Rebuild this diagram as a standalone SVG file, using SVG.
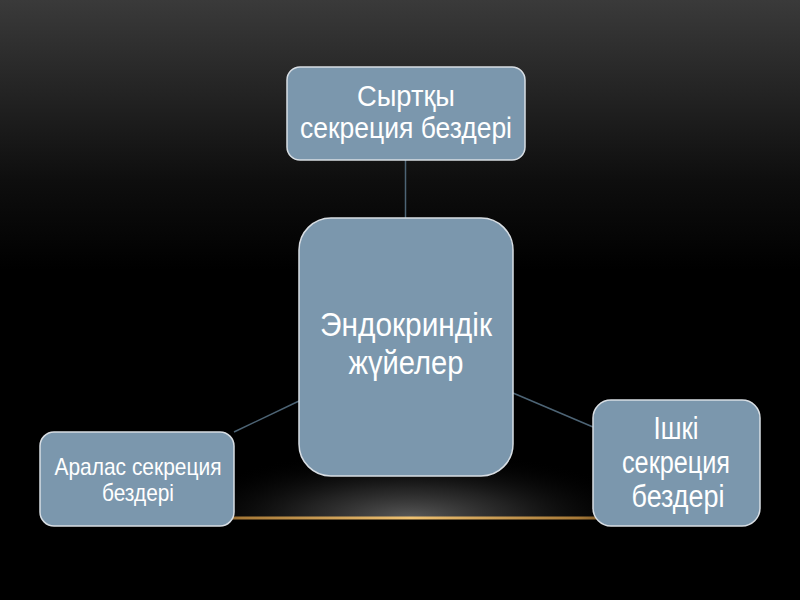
<svg xmlns="http://www.w3.org/2000/svg" width="800" height="600" viewBox="0 0 800 600">
  <defs>
    <linearGradient id="bg" x1="0" y1="0" x2="0" y2="1">
      <stop offset="0" stop-color="#3a3a3a"/>
      <stop offset="0.3" stop-color="#0e0e0e"/>
      <stop offset="0.45" stop-color="#000000"/>
      <stop offset="1" stop-color="#000000"/>
    </linearGradient>
    <radialGradient id="glow" cx="0.5" cy="1" r="0.5" gradientTransform="translate(0.5 1) scale(1 2) translate(-0.5 -1)">
      <stop offset="0" stop-color="#5a5a5a" stop-opacity="1"/>
      <stop offset="0.45" stop-color="#2a2a2a" stop-opacity="0.8"/>
      <stop offset="1" stop-color="#000000" stop-opacity="0"/>
    </radialGradient>
    <linearGradient id="line" x1="0" y1="0" x2="1" y2="0">
      <stop offset="0" stop-color="#8a5e28" stop-opacity="0"/>
      <stop offset="0.2" stop-color="#a87a38"/>
      <stop offset="0.5" stop-color="#f0c272"/>
      <stop offset="0.8" stop-color="#a87a38"/>
      <stop offset="1" stop-color="#8a5e28" stop-opacity="0"/>
    </linearGradient>
  </defs>
  <style>
    .box { fill: #7b97ad; stroke: #d8dee4; stroke-width: 1.5; }
    .conn { stroke: #4d6475; stroke-width: 1.5; fill: none; }
    .t { font-family: "Liberation Sans", Arial, sans-serif; fill: #ffffff; text-anchor: middle; }
  </style>
  <rect x="0" y="0" width="800" height="600" fill="url(#bg)"/>
  <rect x="170" y="450" width="480" height="68" fill="url(#glow)"/>
  <rect x="130" y="516.5" width="560" height="3" fill="url(#line)"/>

  <g id="connectors">
    <line class="conn" x1="405.5" y1="160" x2="405.5" y2="218"/>
    <line class="conn" x1="234" y1="432" x2="299" y2="401"/>
    <line class="conn" x1="513" y1="393" x2="593" y2="427"/>
  </g>

  <g id="top">
    <rect class="box" x="287" y="67" width="238" height="93" rx="13"/>
    <text class="t" font-size="30" x="406" y="106" textLength="98" lengthAdjust="spacingAndGlyphs">Сыртқы</text>
    <text class="t" font-size="30" x="406" y="138" textLength="212" lengthAdjust="spacingAndGlyphs">секреция бездері</text>
  </g>

  <g id="center">
    <rect class="box" x="299" y="218" width="214" height="258" rx="32"/>
    <text class="t" font-size="33" x="406" y="336" textLength="172" lengthAdjust="spacingAndGlyphs">Эндокриндік</text>
    <text class="t" font-size="33" x="406" y="374" textLength="115" lengthAdjust="spacingAndGlyphs">жүйелер</text>
  </g>

  <g id="right">
    <rect class="box" x="593" y="400" width="167" height="126" rx="18"/>
    <text class="t" font-size="31" x="676" y="439" textLength="45" lengthAdjust="spacingAndGlyphs">Ішкі</text>
    <text class="t" font-size="31" x="676" y="473" textLength="108" lengthAdjust="spacingAndGlyphs">секреция</text>
    <text class="t" font-size="31" x="678" y="507" textLength="93" lengthAdjust="spacingAndGlyphs">бездері</text>
  </g>

  <g id="left">
    <rect class="box" x="40" y="432" width="194" height="94" rx="14"/>
    <text class="t" font-size="24" x="138" y="475" textLength="167" lengthAdjust="spacingAndGlyphs">Аралас секреция</text>
    <text class="t" font-size="24" x="138" y="501" textLength="72" lengthAdjust="spacingAndGlyphs">бездері</text>
  </g>
</svg>
